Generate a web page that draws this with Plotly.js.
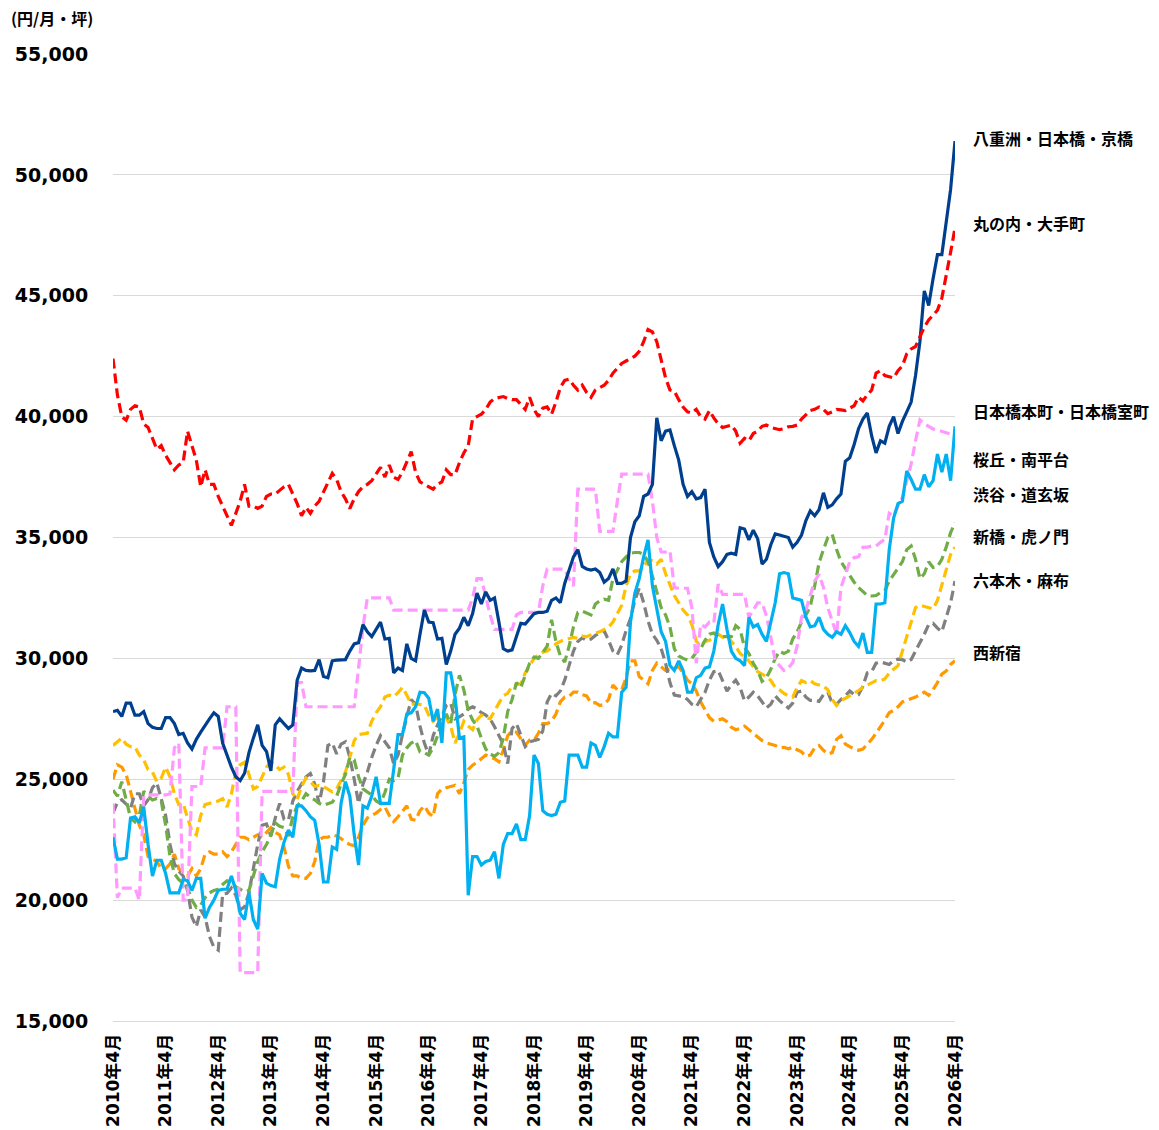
<!DOCTYPE html>
<html>
<head>
<meta charset="utf-8">
<script src="https://cdn.plot.ly/plotly-3.0.1.min.js"></script>
<style>html,body{margin:0;padding:0;background:#fff;}#chart{width:1159px;height:1130px;}</style>
</head>
<body>
<div id="chart"></div>
<script>
// Monthly categories 2010年4月 .. 2026年4月 (193 months)
const months = [];
for (let k = 0; k < 193; k++) {
  const y = 2010 + Math.floor((3 + k) / 12);
  const m = ((3 + k) % 12) + 1;
  months.push(y + "年" + m + "月");
}
const tickLabels = ["2010年4月","2011年4月","2012年4月","2013年4月","2014年4月","2015年4月","2016年4月","2017年4月","2018年4月","2019年4月","2020年4月","2021年4月","2022年4月","2023年4月","2024年4月","2025年4月","2026年4月"];

const seriesNames = ["八重洲・日本橋・京橋","丸の内・大手町","日本橋本町・日本橋室町","桜丘・南平台","渋谷・道玄坂","新橋・虎ノ門","六本木・麻布","西新宿"];

const yaesu = [
27800,27850,27600,28150,28150,27650,27650,27800,27300,27150,27100,27100,
27550,27550,27300,26850,26900,26500,26250,26650,26950,27250,27500,27750,
27600,26500,25950,25500,25100,24950,25250,26100,26700,27250,26400,26150,
25350,27250,27500,27300,27100,27250,29100,29600,29500,29480,29500,29950,
29250,29200,29900,29930,29930,29950,30300,30600,30650,31400,31100,30900,
31200,31500,30800,30830,29400,29600,29500,30600,30000,29900,31000,32000,
31500,31480,30800,30830,29750,30300,31000,31250,31700,31350,31850,32700,
32250,32750,32400,32500,31500,30400,30300,30350,30900,31450,31420,31650,
31850,31900,31900,31950,32400,32500,32300,33100,33700,34200,34500,33800,
33700,33650,33700,33550,33150,33300,33700,33100,33100,33200,35000,35650,
35900,36700,36800,37200,39950,39000,39400,39450,38800,38200,37200,36700,
36900,36600,36650,37000,34800,34200,33800,34000,34300,34350,34300,35400,
35350,34900,35300,34950,33900,34100,34700,35150,35100,35050,35000,34600,
34800,35100,35700,36100,35900,36150,36850,36250,36350,36600,36800,38150,
38300,38850,39500,39900,40150,39200,38500,39000,38900,39600,40000,39300,
39800,40200,40600,41700,43100,45200,44600,45700,46700,46700,48000,49400,
51400];

const marunouchi = [
42400,40900,40000,39850,40300,40450,40400,39700,39550,39100,38650,38800,
38400,38100,37800,38000,38100,39400,38800,38200,37100,37800,37200,37200,
36700,36300,35900,35500,36000,36500,37200,36300,36300,36200,36300,36700,
36800,36800,36950,37100,37200,36800,36400,35900,36250,36000,36300,36500,
36900,37300,37650,37400,36900,36600,36200,36600,36900,37100,37200,37350,
37600,37900,37500,38000,37500,37400,37700,38100,38550,37700,37300,37200,
37100,37000,37200,37300,37800,37600,37600,38100,38500,38800,39900,40000,
40100,40300,40600,40750,40800,40830,40750,40700,40700,40500,40300,40800,
40300,40000,40350,40400,40100,40600,41200,41500,41550,41300,41100,41300,
41000,40800,41100,41200,41300,41500,41800,42000,42200,42300,42400,42500,
42700,43100,43600,43500,43100,42300,41600,41100,41050,40700,40400,40200,
40150,40300,40000,39900,40250,39950,39700,39550,39600,39650,39400,38900,
39100,39000,39300,39400,39600,39650,39550,39500,39460,39500,39580,39600,
39650,39900,40100,40250,40300,40400,40300,40120,40200,40300,40280,40250,
40350,40450,40800,40650,40900,41100,41800,41900,41700,41650,41600,41900,
42100,42600,42800,42900,43300,43700,44000,44200,44400,44900,45800,46800,
47800];

const nihonbashiHoncho = [
22600,21700,21700,21750,23400,23450,23200,23850,22300,21000,21650,21650,
21100,20300,20300,20300,20850,20800,20400,20900,20900,19250,19700,20000,
20400,20450,20450,21000,20400,19450,19200,20300,19200,18800,21100,20700,
20600,20550,21700,22400,22900,22600,23900,23900,23700,23450,23300,22300,
20750,20750,22200,22100,24000,24900,24300,22700,21450,23900,23800,24300,
25100,24000,24000,24000,25400,26850,26850,27700,27750,28000,28600,28580,
28350,27400,27900,26500,29400,29400,28400,26700,26750,20200,21800,21800,
21450,21600,21650,22000,20900,22300,22750,22750,23150,22500,22500,23500,
26000,25650,23700,23550,23500,23550,24050,24100,26000,26000,26000,25500,
25500,26500,26400,25900,26350,26900,26750,26750,28600,28800,31500,32700,
33300,34200,34900,33000,32000,31100,30700,29700,29500,29900,29500,28600,
28600,29200,29300,29600,29650,30300,31400,32250,31200,30300,30000,29900,
29700,31700,31300,31400,31000,30700,31500,32300,33500,33550,33500,32500,
32450,32400,31700,31300,31350,31700,31200,31000,30870,31100,31000,31350,
31070,30700,30500,31050,30250,30250,32250,32250,32300,34500,35800,36400,
36500,37750,37400,37000,37000,37600,37100,37350,38450,37700,38450,37350,
39600];

const sakuragaoka = [
24000,20100,20500,20500,20500,20500,20000,24300,24350,24350,24350,24350,
24350,24400,26300,26500,20000,20000,24700,24700,24700,26300,26300,26300,
26300,26300,28000,28000,28000,17000,17000,17000,17000,17000,24500,24500,
24500,24500,24500,24500,24500,24500,29000,29000,28000,28000,28000,28000,
28000,28000,28000,28000,28000,28000,28000,28000,29600,31300,32500,32500,
32500,32500,32500,32500,32000,32000,32000,32000,32000,32000,32000,32000,
32000,32000,32000,32000,32000,32000,32000,32000,32000,32000,32500,33300,
33300,32500,31800,31200,31200,31200,31200,31200,31800,31900,31900,31900,
31900,31900,33000,33690,33690,33690,33690,33690,33300,33000,37000,37000,
37000,37000,37000,35250,35250,35250,35250,36500,37620,37620,37620,37620,
37620,37620,37620,36500,35000,34400,34400,34450,32930,32900,32900,32900,
32100,29800,31400,31300,31500,31450,33070,32650,32650,32650,32650,32650,
32650,31700,32000,32300,32300,31760,30870,29900,29700,29500,29600,29830,
30500,31700,32000,32600,33200,33480,32930,32100,31500,31000,32930,33480,
34000,34170,34200,34590,34600,34650,34650,34800,34930,36000,35900,36300,
36660,37350,38040,39000,39860,39700,39600,39490,39450,39400,39350,39280,
39200];

const shibuya = [
24550,24300,24900,24200,23400,23240,23500,24500,24300,24140,24200,24100,
23100,21800,21100,20850,20700,20500,20000,19700,19800,20100,20300,20400,
20450,20650,20800,20750,20550,20450,20350,20400,21000,21600,22000,22300,
22700,23200,23050,23000,22650,23450,23900,24100,24400,24250,24150,24000,
23920,23980,24050,24300,24800,25200,25900,25800,25100,24600,24480,24350,
24100,24000,24450,25000,24950,25050,26000,26300,26500,26600,26130,26100,
26000,26300,26800,27400,27700,27300,28500,29300,28700,27850,27450,27200,
26700,26250,26050,25950,26100,26700,27800,28300,29000,28800,29300,29800,
30050,30000,30250,30500,31600,30700,30100,29850,30500,31300,31900,31950,
31880,31800,32250,32380,32450,32400,33300,33650,34000,34200,34350,34380,
34380,34300,34000,33400,32800,32100,31800,31300,30400,30100,30000,29930,
30000,30250,30400,30750,31000,31050,30900,30900,30880,30900,31350,31200,
30450,30200,29800,29500,29050,29200,29550,30000,30300,30200,30300,30800,
31100,31500,31800,32150,33000,33950,34500,35000,35130,34500,34000,33700,
33450,33150,32930,32750,32600,32580,32600,32720,32800,33200,33450,33700,
34000,34500,34650,34100,33300,33500,34000,33760,33800,34100,34600,35200,
35600];

const shimbashi = [
26400,26550,26700,26450,26350,26340,26000,25800,25400,25300,24900,25050,
25500,25100,24400,23950,24000,23400,22850,22700,23500,23950,24000,24050,
24100,24200,23850,24400,25300,25600,25700,25200,24600,24700,25100,25500,
25700,25600,25400,25500,25200,24400,24150,24700,25050,24900,24700,24750,
24700,24600,24480,24600,24950,25300,25900,26600,26850,26890,26900,27400,
27750,28000,28400,28480,28420,28580,28800,28480,28100,28120,28100,28070,
27650,27400,27580,27700,27520,27200,26500,26900,27400,27200,27050,27450,
27650,27550,27500,27850,28150,28450,28550,28850,28900,28950,29400,29700,
30000,30150,30250,30300,30450,30600,30700,30780,30820,30870,30830,30920,
30900,30980,31050,31100,31200,31300,31500,31850,32200,33000,33500,33620,
33620,33800,34050,34040,33900,34100,33500,33050,32600,32300,32000,31800,
31400,30700,30550,30700,30750,30900,31000,30880,30950,30700,30500,30200,
30050,29900,29650,29450,29350,29250,29080,28800,28700,28550,28450,28400,
28800,29080,29000,29080,28950,28900,28850,28700,28300,28050,28250,28350,
28450,28550,28670,28800,28900,29000,29080,29080,29150,29400,29550,29700,
30300,30900,31500,32100,32200,32150,32100,32050,32400,33000,33700,34300,
34600];

const roppongi = [
23600,24050,24150,23950,23800,24400,24400,23900,24150,24650,24850,24200,
23500,22300,21500,21200,21000,20400,19300,18900,19600,19300,18500,18050,
17930,20250,20280,20500,20200,19600,19720,20300,21300,22300,23100,23150,
22650,23400,24000,23350,23300,24100,24500,24800,25100,25240,24800,23990,
24900,26400,26500,26050,26450,26550,25900,25000,24000,24800,25300,25900,
26400,26800,26550,26300,25650,26000,26850,27600,28300,28100,27200,26500,
26000,26800,27250,27600,28050,28150,27500,27580,27700,27900,28000,27900,
27750,27650,27500,27170,26800,26450,25650,27100,27300,26800,26350,26550,
26600,26650,27000,28200,28550,28450,28650,29100,29700,30300,30700,30850,
30750,30800,30950,31050,31140,30750,30300,30150,30550,31150,31650,32400,
32900,32300,31550,31000,30750,30400,29800,29000,28480,28450,28420,28300,
28100,28000,28300,28600,29100,29450,29500,29050,28650,28900,29100,28800,
28250,28400,28600,28450,28200,27950,28100,28450,28250,28100,27950,28150,
28600,28650,28400,28260,28260,28220,28500,28600,28150,28100,28300,28450,
28650,28500,28500,28850,29400,29450,29800,29850,29800,29750,29900,29970,
29950,29850,29950,30300,30600,31000,31400,31450,31250,31100,31700,32300,
33200];

const nishishinjuku = [
25000,25600,25500,25200,24500,23800,23100,22700,21800,21700,21600,21300,
21300,21500,21900,21300,21100,21000,21300,21000,21300,21900,22000,21900,
21900,22000,21800,22000,22300,22600,22600,22500,22600,22700,22600,22800,
23000,22800,22700,22200,21400,21000,21000,20900,20900,21100,21600,22500,
22600,22600,22700,22650,22550,22400,22300,22250,22600,23100,23400,23500,
23600,23750,23850,23500,23250,23450,23700,23900,23350,23300,23700,23900,
23600,23450,24400,24600,24650,24700,24750,24400,24850,25400,25580,25700,
25850,26000,25930,25850,25720,26200,26800,27000,26950,26700,26400,26620,
26620,26900,27300,27300,27400,27700,28200,28400,28420,28600,28600,28500,
28450,28150,28170,28050,28100,28300,28900,28700,28700,29200,29900,29900,
29250,29100,28950,29500,29800,29650,29500,29550,29600,29650,29400,29100,
28950,28650,28200,27900,27550,27400,27450,27500,27380,27150,27050,27100,
27200,27050,26900,26750,26600,26500,26450,26400,26300,26320,26260,26330,
26220,26130,25950,26000,26300,26400,26200,26050,26100,26650,26800,26450,
26350,26250,26200,26250,26450,26650,26900,27150,27450,27750,27850,28000,
28200,28270,28320,28400,28500,28600,28470,28700,29000,29350,29480,29750,
29900];

const FONT = "DejaVu Sans, Noto Sans CJK JP, sans-serif";
const DASH = "10px,5px";

function tr(y, name, color, dash) {
  return {
    x: months, y: y, name: name, type: "scatter", mode: "lines",
    line: {color: color, width: 3.2, dash: dash || "solid"},
    hoverinfo: "skip"
  };
}

const data = [
  tr(nishishinjuku, seriesNames[7], "#ff9900", DASH),
  tr(roppongi, seriesNames[6], "#808080", DASH),
  tr(shimbashi, seriesNames[5], "#ffc000", DASH),
  tr(shibuya, seriesNames[4], "#70ad47", DASH),
  tr(sakuragaoka, seriesNames[3], "#ff99ff", DASH),
  tr(nihonbashiHoncho, seriesNames[2], "#00b0f0"),
  tr(yaesu, seriesNames[0], "#003f8e"),
  tr(marunouchi, seriesNames[1], "#ff0000", DASH)
];

const labelFont = {family: "Noto Sans CJK JP, sans-serif", size: 16, color: "#000", weight: 700};
function lab(text, yv) {
  return {xref: "paper", yref: "y", x: 1.0185, y: yv, xanchor: "left", yanchor: "middle",
          text: text, showarrow: false, font: labelFont};
}

const layout = {
  width: 1159, height: 1130,
  margin: {l: 113, r: 204, t: 54, b: 109},
  paper_bgcolor: "#fff", plot_bgcolor: "#fff",
  showlegend: false,
  font: {family: FONT, color: "#000"},
  xaxis: {
    type: "category", range: [0, 192],
    tickmode: "array", tickvals: tickLabels, ticktext: tickLabels,
    tickangle: -90, ticks: "outside", ticklen: 5, tickcolor: "rgba(0,0,0,0)",
    tickfont: {family: FONT, size: 17, color: "#000", weight: 700},
    showgrid: false, zeroline: false,
    showline: true, linecolor: "#d9d9d9", linewidth: 1
  },
  yaxis: {
    range: [15000, 55000], dtick: 5000, tick0: 15000, tickformat: ",d",
    ticks: "outside", ticklen: 20, tickcolor: "rgba(0,0,0,0)",
    tickfont: {family: FONT, size: 19, color: "#000", weight: 700},
    showgrid: true, gridcolor: "#d9d9d9", gridwidth: 1,
    zeroline: false, showline: false
  },
  annotations: [
    {xref: "paper", yref: "paper", x: -0.1235, y: 1.037, xanchor: "left", yanchor: "middle",
     text: "(円/月・坪)", showarrow: false,
     font: {family: "Noto Sans CJK JP, sans-serif", size: 16, color: "#000", weight: 700}},
    lab(seriesNames[0], 51525),
    lab(seriesNames[1], 48010),
    lab(seriesNames[2], 40230),
    lab(seriesNames[3], 38250),
    lab(seriesNames[4], 36800),
    lab(seriesNames[5], 35060),
    lab(seriesNames[6], 33240),
    lab(seriesNames[7], 30260)
  ]
};

Plotly.newPlot("chart", data, layout, {displayModeBar: false, staticPlot: true});
</script>
</body>
</html>
